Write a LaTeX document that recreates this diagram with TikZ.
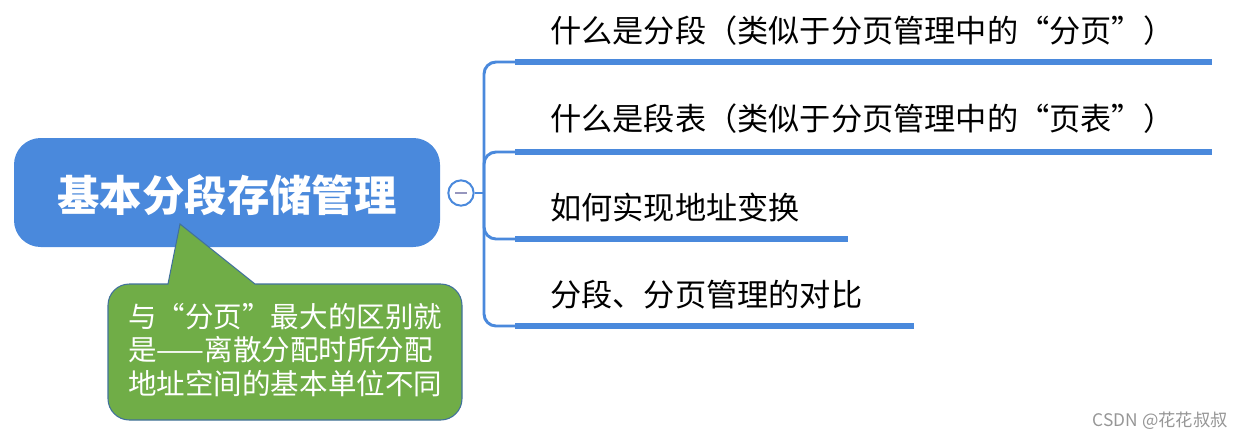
\documentclass[tikz,border=0pt]{standalone}
\usepackage{fontspec}
\newfontfamily\cjk{Noto Sans CJK SC}
\begin{document}
\begin{tikzpicture}[x=0.75pt,y=-0.75pt,
  blue/.style={draw=none,fill={rgb,255:red,74;green,137;blue,220}},
  br/.style={draw={rgb,255:red,74;green,137;blue,220},line width=2.2pt,rounded corners=9pt},
  ul/.style={draw={rgb,255:red,74;green,137;blue,220},line width=4.5pt},
  item/.style={anchor=west,font=\cjk\fontsize{23.4}{27}\selectfont,inner sep=0pt}]
\useasboundingbox (0,0) rectangle (1243,440);
\node[blue,rounded corners=20pt,minimum width=426*0.75pt,minimum height=109*0.75pt] (root) at (227,192.5) {};
\node[text=white,font=\cjk\bfseries\fontsize{31.8}{36}\selectfont] (rt) at (227,195) {基本分段存储管理};
\node[circle,draw={rgb,255:red,74;green,137;blue,220},line width=1.5pt,fill=white,minimum size=19pt,inner sep=0pt] (c) at (461,193) {};
\draw[line width=1.6pt,draw={rgb,255:red,150;green,150;blue,190}] (455,193) -- (467,193);
\coordinate (j) at (484,193);
\draw[br] (c) -- (j);
\coordinate (e1) at (515,62); \coordinate (e2) at (515,152);
\coordinate (e3) at (515,239); \coordinate (e4) at (515,326);
\draw[br] (e1) -- (484,62) -- (484,326) -- (e4);
\draw[br] (e2) -- (484,152) -- (484,239) -- (e3);
\coordinate (f1) at (1212,62); \coordinate (f2) at (1212,152);
\coordinate (f3) at (848,239); \coordinate (f4) at (914,326);
\draw[ul] (e1) -- (f1); \draw[ul] (e2) -- (f2);
\draw[ul] (e3) -- (f3); \draw[ul] (e4) -- (f4);
\node[item] (t1) at (550,31) {什么是分段（类似于分页管理中的“分页”）};
\node[item] (t2) at (550,119) {什么是段表（类似于分页管理中的“页表”）};
\node[item] (t3) at (550,208) {如何实现地址变换};
\node[item] (t4) at (550,295) {分段、分页管理的对比};
\draw[draw={rgb,255:red,65;green,113;blue,156},line width=0.8pt,fill={rgb,255:red,112;green,173;blue,71}]
  (168,284) -- (180,224) -- (255,284) [rounded corners=16pt] -- (462,284) -- (462,420) -- (108,420) -- (108,284) [sharp corners] -- cycle;
\node[text=white,font=\cjk\fontsize{21.4}{25}\selectfont,align=left,anchor=north west,inner sep=0pt] (ct) at (128,303)
  {与“分页”最大的区别就\\是——离散分配时所分配\\地址空间的基本单位不同};
\node[text={rgb,255:red,150;green,150;blue,150},font=\cjk\fontsize{13}{15}\selectfont,anchor=east,inner sep=0pt] (wm) at (1228,421) {CSDN @花花叔叔};
\end{tikzpicture}
\end{document}
